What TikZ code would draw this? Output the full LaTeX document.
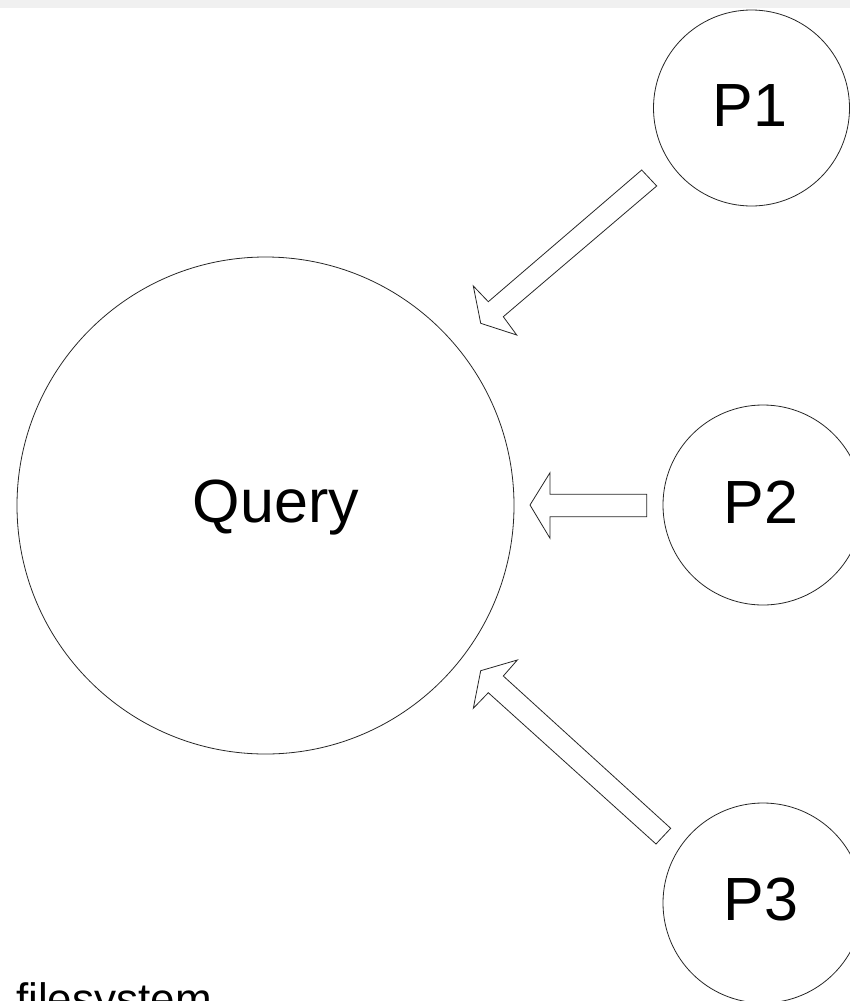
\documentclass[tikz,border=0pt]{standalone}
\usepackage{fontspec}
\setmainfont{Liberation Sans}
\begin{document}
\begin{tikzpicture}[x=1pt,y=-1pt,
  ring/.style={draw=black!85,line width=0.8pt,circle,inner sep=0pt},
  bigtext/.style={font=\fontsize{61}{61}\selectfont,inner sep=0pt,anchor=base},
  smalltext/.style={font=\fontsize{44}{44}\selectfont,inner sep=0pt,anchor=base west},
  blockarrow/.style={draw=black!85,line width=0.8pt,line join=miter,fill=white}]
\useasboundingbox (0,0) rectangle (850,1001);
\begin{scope}
\clip (0,0) rectangle (850,1001);
% faint strip along the top edge
\fill[black!6] (0,0) rectangle (850,8);

% process circles and the query circle
\node[ring,minimum size=497pt] (query) at (265.5,505.5) {};
\node[ring,minimum size=196pt] (p1) at (751.5,108) {};
\node[ring,minimum size=200pt] (p2) at (763,505) {};
\node[ring,minimum size=200pt] (p3) at (763,903) {};

% labels
\node[bigtext] (tq) at (276,522) {Query};
\node[bigtext] (t1) at (750,126) {P1};
\node[bigtext] (t2) at (761,523) {P2};
\node[bigtext] (t3) at (761,920) {P3};
\node[smalltext] (tfs) at (16,1014) {filesystem};

% hollow block arrows pointing into the query
\draw[blockarrow] (641.7,170) -- (488.3,301.7) -- (473.3,286) -- (480.7,323.3)
  -- (516.7,335) -- (503.3,316.7) -- (656.7,186) -- cycle;
\draw[blockarrow] (646.7,494.3) -- (550,494.3) -- (550,472.7) -- (530,505)
  -- (550,538.3) -- (550,516.7) -- (646.7,516.7) -- cycle;
\draw[blockarrow] (670.7,828.3) -- (503.3,676) -- (517.3,660) -- (480.7,670.7)
  -- (473.3,708.3) -- (488.3,692.7) -- (656,844) -- cycle;
\end{scope}
\end{tikzpicture}
\end{document}
